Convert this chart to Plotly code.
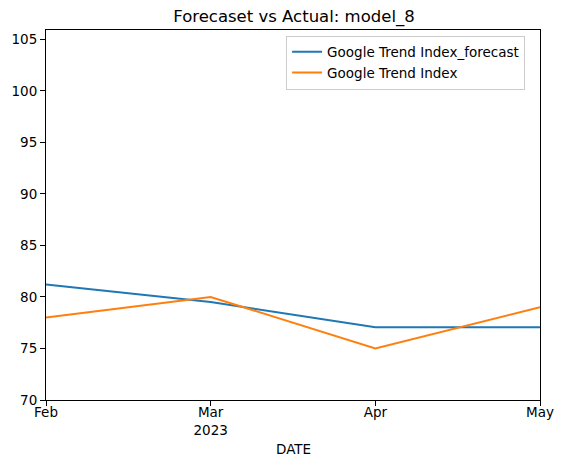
import plotly.graph_objects as go

# monthly points (Feb..May 2023)
months = ["Feb", "Mar", "Apr", "May"]
tick_labels = ["Feb", "Mar<br>2023", "Apr", "May"]
forecast = [81.2, 79.5, 77.05, 77.05]
actual = [78.0, 80.0, 75.0, 79.0]
y_ticks = [70, 75, 80, 85, 90, 95, 100, 105]

x = list(range(len(months)))
font = "DejaVu Sans"

fig = go.Figure()
fig.add_trace(go.Scatter(
    x=x, y=forecast, mode="lines",
    name="Google Trend Index_forecast",
    line=dict(color="#1f77b4", width=2),
))
fig.add_trace(go.Scatter(
    x=x, y=actual, mode="lines",
    name="Google Trend Index",
    line=dict(color="#ff7f0e", width=2),
))

axis = dict(
    showline=True, linecolor="black", linewidth=1, mirror=True,
    ticks="outside", ticklen=5, tickcolor="black", tickwidth=1,
    showgrid=False, zeroline=False,
    tickfont=dict(family=font, size=13.5, color="black"),
)
fig.update_xaxes(axis, range=[0, 3], tickvals=x, ticktext=tick_labels,
                 ticklabelstandoff=-5)
fig.update_yaxes(axis, range=[70, 105.9], tickvals=y_ticks)

fig.update_layout(
    width=566, height=467,
    margin=dict(l=45, r=21, t=30, b=67),
    paper_bgcolor="white", plot_bgcolor="white",
    font=dict(family=font, size=13.5, color="black"),
    title=dict(
        text="Forecaset vs Actual: model_8",
        x=(45 + 543) / 2 / 566, xanchor="center",
        y=1 - 16 / 467, yanchor="middle",
        font=dict(family=font, size=16.5, color="black"),
    ),
    legend=dict(
        x=0.486, y=0.985, xanchor="left", yanchor="top",
        bgcolor="rgba(255,255,255,0.8)",
        bordercolor="#cccccc", borderwidth=1,
        tracegroupgap=0,
        font=dict(family=font, size=13.5, color="black"),
    ),
    annotations=[dict(
        text="DATE", x=0.5, xref="paper", y=-0.132, yref="paper",
        showarrow=False, yanchor="middle",
        font=dict(family=font, size=13.5, color="black"),
    )],
)

# drop the default 8px page margin so the figure fills the window
fig.write_html("out.html", config={"displayModeBar": False},
               post_script="document.body.style.margin='0';")
